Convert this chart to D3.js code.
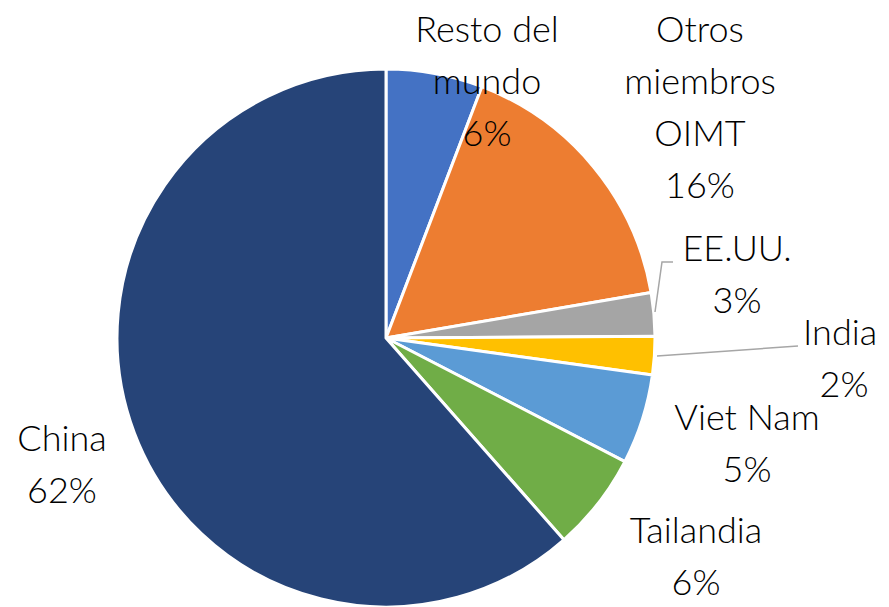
<!DOCTYPE html>
<html><head><meta charset="utf-8">
<script src="https://cdn.jsdelivr.net/npm/d3@7"></script>
<style>body{margin:0;background:#fff}svg{display:block}text{font-family:Lato,"Open Sans",sans-serif;font-weight:300;fill:#000}</style>
</head><body><svg id="c" width="889" height="607"></svg>
<script>
const categories = ["Resto del mundo","Otros miembros OIMT","EE.UU.","India","Viet Nam","Tailandia","China"];
const values = [5.8, 16.5, 2.6, 2.3, 5.4, 5.9, 61.5];
const pctLabels = ["6%","16%","3%","2%","5%","6%","62%"];
const labelLines = [["Resto del","mundo"],["Otros","miembros","OIMT"],["EE.UU."],["India"],["Viet Nam"],["Tailandia"],["China"]];
const colors = ["#4472C4","#ED7D31","#A5A5A5","#FFC000","#5B9BD5","#70AD47","#264478"];

// layout (label anchors: centre x, first baseline y)
const cx = 386, cy = 338, R = 269, lh = 52, fs = 36;
const labelPos = [[487,42],[700,42],[737,261],[844,345],[747,430],[696,543],[62,451]];

const svg = d3.select("#c");
const g = svg.append("g").attr("transform",`translate(${cx},${cy})`);
const pie = d3.pie().sort(null).value(d=>d);
const arcs = pie(values);
const arc = d3.arc().innerRadius(0).outerRadius(R);
g.selectAll("path").data(arcs).join("path")
  .attr("d",arc).attr("fill",(d,i)=>colors[i])
  .attr("stroke","#fff").attr("stroke-width",3).attr("stroke-linejoin","round");

// leader lines for EE.UU. and India
const leader = d3.line();
const leaders = [
  [[655,312],[662,262],[673,262]],
  [[657,356],[798,346]]
];
svg.selectAll("path.leader").data(leaders).join("path").attr("class","leader")
  .attr("d",leader).attr("fill","none").attr("stroke","#A6A6A6").attr("stroke-width",1.5);

categories.forEach((c,i)=>{
  const [x,y] = labelPos[i];
  const lines = labelLines[i].concat([pctLabels[i]]);
  const t = svg.append("text").attr("text-anchor","middle").attr("font-size",fs);
  lines.forEach((l,k)=>{
    t.append("tspan").attr("x", (i===3 && k===0) ? x-41 : x).attr("y", y+k*lh)
     .attr("text-anchor", (i===3 && k===0) ? "start" : "middle").text(l);
  });
});
</script></body></html>
